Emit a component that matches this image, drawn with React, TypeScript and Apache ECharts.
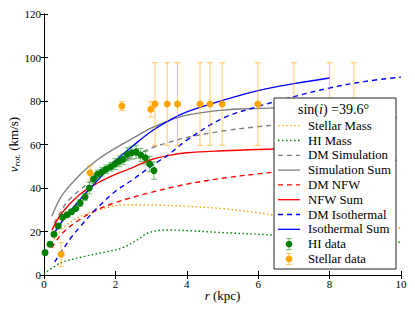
import { useEffect, useRef } from "react";
import * as echarts from "echarts";

// ---- data ----
const xTicks = [0, 2, 4, 6, 8, 10];
const yTicks = [0, 20, 40, 60, 80, 100, 120];

const hiR = [0.03, 0.17, 0.28, 0.4, 0.52, 0.65, 0.77, 0.89, 1.01, 1.15, 1.27, 1.39, 1.5, 1.63, 1.74, 1.87, 1.99, 2.11, 2.22, 2.34, 2.46, 2.58, 2.71, 2.84, 2.96, 3.08];
const hiV = [10.3, 14.1, 18.7, 22.5, 26.5, 27.7, 29.1, 30.6, 33.1, 35.9, 40.0, 44.1, 46.3, 47.5, 48.6, 49.8, 51.0, 52.3, 53.2, 55.5, 56.2, 56.6, 55.2, 53.9, 51.0, 48.0];
const hiErr = [1, 1, 1, 1, 1, 1, 1, 1, 1.5, 1.5, 2.7, 2, 2, 2, 2, 2, 2.5, 2.5, 2.5, 3, 3, 3, 3, 3, 3.5, 4];

const stR = [0.48, 1.29, 2.18, 2.99, 3.11, 3.45, 3.74, 4.37, 4.65, 4.99, 5.99, 7.0, 8.0, 8.68];
const stV = [9.5, 47.0, 77.7, 76.2, 78.6, 78.6, 78.6, 78.6, 78.6, 78.6, 78.6, 78.6, 78.6, 78.6];
const stErr = [5.5, 3.2, 2, 3.5, 19, 19, 19, 19, 19, 19, 19, 19, 19, 19];

const stellarMassR = [0.22, 0.5, 0.8, 1.3, 1.75, 2.2, 2.7, 3.2, 4.0, 5.0, 6.0, 6.4, 8.0, 10.0];
const stellarMassV = [15, 21, 25, 28.8, 31, 32.2, 32.3, 32.1, 31.6, 30.5, 28.6, 27.6, 24.5, 21.5];

const hiMassR = [0.0, 0.45, 1.1, 1.76, 2.2, 2.6, 2.9, 3.4, 4.0, 5.0, 6.4, 8.0, 10.0];
const hiMassV = [0.5, 5.4, 8.4, 10.7, 12.5, 16, 19.2, 20.7, 20.4, 19.5, 18.4, 17, 15];

const dmSimR = [0.28, 0.5, 0.65, 1.0, 1.5, 2.0, 2.5, 3.0, 3.5, 4.0, 5.0, 6.0, 6.5, 8.0, 10.0];
const dmSimV = [23.8, 30, 33.7, 39, 45.5, 50.5, 54.5, 58.3, 61, 63.2, 66.2, 68.2, 69, 70.8, 72.5];

const simSumR = [0.22, 0.5, 1.0, 1.5, 2.0, 2.5, 3.0, 3.5, 4.0, 5.0, 6.0, 7.0, 8.0];
const simSumV = [27, 36.5, 46, 53, 58.3, 63, 67.5, 71, 73.5, 75.8, 76.6, 77.2, 77.5];

const dmNfwR = [0.22, 0.5, 1.0, 1.5, 2.0, 2.5, 3.0, 3.5, 4.0, 5.0, 6.0, 7.0, 8.0, 9.0, 10.0];
const dmNfwV = [12.5, 19, 25.5, 30, 33.3, 35.8, 38, 40, 41.8, 44.5, 46.5, 48.3, 50, 51.5, 53];

const nfwSumR = [0.22, 0.5, 1.0, 1.5, 2.0, 2.5, 3.0, 3.5, 4.0, 5.0, 6.0, 7.0, 8.0];
const nfwSumV = [20.5, 28.5, 37, 42.3, 46.3, 49.5, 53, 55, 56.2, 57.1, 57.7, 58.1, 58.4];

const dmIsoR = [0.3, 0.5, 0.75, 1.0, 1.5, 2.0, 2.5, 3.0, 3.5, 4.0, 5.0, 6.0, 7.0, 8.0, 9.0, 10.0];
const dmIsoV = [6, 11, 17, 22, 31, 38.5, 44, 50, 55.5, 62, 72, 77.5, 82, 86, 89, 91];

const isoSumR = [0.24, 0.5, 1.0, 1.5, 2.0, 2.5, 3.0, 3.5, 4.0, 5.0, 6.0, 7.0, 8.0];
const isoSumV = [18, 24.5, 34.5, 43.5, 52.5, 59.5, 66, 71, 75, 80.3, 84.8, 88, 90.6];

const SERIF = "'Liberation Serif', 'DejaVu Serif', serif";

const lines = [
  { name: "Stellar Mass", r: stellarMassR, v: stellarMassV, color: "#FFA500", dash: [1.5, 2.5] },
  { name: "HI Mass", r: hiMassR, v: hiMassV, color: "#008000", dash: [1.5, 2.5] },
  { name: "DM Simulation", r: dmSimR, v: dmSimV, color: "#808080", dash: [5, 4] },
  { name: "Simulation Sum", r: simSumR, v: simSumV, color: "#808080", dash: null },
  { name: "DM NFW", r: dmNfwR, v: dmNfwV, color: "#FF0000", dash: [5, 4] },
  { name: "NFW Sum", r: nfwSumR, v: nfwSumV, color: "#FF0000", dash: null },
  { name: "DM Isothermal", r: dmIsoR, v: dmIsoV, color: "#0000FF", dash: [5, 4] },
  { name: "Isothermal Sum", r: isoSumR, v: isoSumV, color: "#0000FF", dash: null },
];

function errorBarSeries(name: string, r: number[], v: number[], e: number[], color: string) {
  return {
    name: name + " err",
    type: "custom",
    z: 3,
    data: r.map((x, i) => [x, v[i], e[i]]),
    encode: { x: 0, y: 1 },
    renderItem: (_p: any, api: any) => {
      const x = api.value(0);
      const y = api.value(1);
      const err = api.value(2);
      const t = api.coord([x, y + err]);
      const b = api.coord([x, y - err]);
      const cw = 3;
      const style = { stroke: color, lineWidth: 1 };
      return {
        type: "group",
        children: [
          { type: "line", shape: { x1: t[0], y1: t[1], x2: b[0], y2: b[1] }, style },
          { type: "line", shape: { x1: t[0] - cw, y1: t[1], x2: t[0] + cw, y2: t[1] }, style },
          { type: "line", shape: { x1: b[0] - cw, y1: b[1], x2: b[0] + cw, y2: b[1] }, style },
        ],
      };
    },
  };
}

export default function App() {
  const ref = useRef<HTMLDivElement>(null);
  useEffect(() => {
    if (!ref.current) return;
    const chart = echarts.init(ref.current, null, { renderer: "svg" });

    const gridLeft = 44, gridRight = 14, gridTop = 14, gridBottom = 37;

    const axisCommon = {
      type: "value" as const,
      axisLine: { show: true, lineStyle: { color: "#000", width: 1 } },
      axisTick: { show: true, inside: true, length: 4, lineStyle: { color: "#000" } },
      splitLine: { show: false },
    };

    const FS = 12.8;
    // legend (drawn as graphics)
    const lx = 274, ly = 98, lw = 122, lh = 171;
    const rowY0 = 125.7, rowStep = 14.8;
    const legendEls: any[] = [
      { type: "rect", shape: { x: lx, y: ly, width: lw, height: lh }, style: { fill: "#fff", stroke: "#222", lineWidth: 1 }, z: 50 },
      {
        type: "text",
        x: 333.5,
        y: 109.5,
        z: 51,
        style: {
          text: "sin({i|i}) =39.6°",
          rich: { i: { fontStyle: "italic", fontFamily: SERIF, fontSize: 14 } },
          fontFamily: SERIF,
          fontSize: 14,
          fill: "#000",
          align: "center",
          verticalAlign: "middle",
        },
      },
    ];
    lines.forEach((l, k) => {
      const yy = rowY0 + rowStep * k;
      legendEls.push({
        type: "line",
        z: 51,
        shape: { x1: 278, y1: yy, x2: 300, y2: yy },
        style: { stroke: l.color, lineWidth: 1.3, lineDash: l.dash || null },
      });
      legendEls.push({
        type: "text",
        z: 51,
        x: 308,
        y: yy,
        style: { text: l.name, fontFamily: SERIF, fontSize: FS, fill: "#000", verticalAlign: "middle" },
      });
    });
    [
      { name: "HI data", color: "#008000", bar: "rgba(0,128,0,0.5)" },
      { name: "Stellar data", color: "#FFA500", bar: "rgba(255,165,0,0.6)" },
    ].forEach((d, j) => {
      const yy = rowY0 + rowStep * (8 + j);
      const cx = 289;
      legendEls.push({ type: "line", z: 51, shape: { x1: cx, y1: yy - 5.5, x2: cx, y2: yy + 5.5 }, style: { stroke: d.bar, lineWidth: 1 } });
      legendEls.push({ type: "line", z: 51, shape: { x1: cx - 3, y1: yy - 5.5, x2: cx + 3, y2: yy - 5.5 }, style: { stroke: d.bar, lineWidth: 1 } });
      legendEls.push({ type: "line", z: 51, shape: { x1: cx - 3, y1: yy + 5.5, x2: cx + 3, y2: yy + 5.5 }, style: { stroke: d.bar, lineWidth: 1 } });
      legendEls.push({ type: "circle", z: 52, shape: { cx, cy: yy, r: 3.4 }, style: { fill: d.color } });
      legendEls.push({
        type: "text",
        z: 51,
        x: 308,
        y: yy,
        style: { text: d.name, fontFamily: SERIF, fontSize: FS, fill: "#000", verticalAlign: "middle" },
      });
    });

    const option: any = {
      animation: false,
      backgroundColor: "#fff",
      textStyle: { fontFamily: SERIF },
      grid: {
        left: gridLeft,
        right: gridRight,
        top: gridTop,
        bottom: gridBottom,
        containLabel: false,
        outerBoundsMode: "none",
      },
      xAxis: [
        {
          ...axisCommon,
          position: "bottom",
          min: xTicks[0],
          max: xTicks[xTicks.length - 1],
          interval: xTicks[1] - xTicks[0],
          axisLabel: { color: "#000", fontFamily: SERIF, fontSize: 11, margin: 3 },
          name: "{r|r} (kpc)",
          nameLocation: "middle",
          nameMoveOverlap: false,
          nameGap: 14,
          nameTextStyle: {
            color: "#000",
            fontFamily: SERIF,
            fontSize: 13,
            rich: { r: { fontStyle: "italic", fontFamily: SERIF, fontSize: 13 } },
          },
        },
        {
          ...axisCommon,
          position: "top",
          min: xTicks[0],
          max: xTicks[xTicks.length - 1],
          interval: xTicks[1] - xTicks[0],
          axisLabel: { show: false },
        },
      ],
      yAxis: [
        {
          ...axisCommon,
          position: "left",
          min: yTicks[0],
          max: yTicks[yTicks.length - 1],
          interval: yTicks[1] - yTicks[0],
          axisLabel: { color: "#000", fontFamily: SERIF, fontSize: 11, margin: 3 },
          name: "{v|v}{s|rot.} (km/s)",
          nameLocation: "middle",
          nameMoveOverlap: false,
          nameGap: 23,
          nameTextStyle: {
            color: "#000",
            fontFamily: SERIF,
            fontSize: 13,
            lineHeight: 16,
            rich: {
              v: { fontStyle: "italic", fontFamily: SERIF, fontSize: 13, lineHeight: 16 },
              s: { fontStyle: "italic", fontFamily: SERIF, fontSize: 9, lineHeight: 16, verticalAlign: "bottom" },
            },
          },
        },
        {
          ...axisCommon,
          position: "right",
          min: yTicks[0],
          max: yTicks[yTicks.length - 1],
          interval: yTicks[1] - yTicks[0],
          axisLabel: { show: false },
        },
      ],
      series: [
        ...lines.map((l) => ({
          name: l.name,
          type: "line",
          xAxisIndex: 0,
          yAxisIndex: 0,
          data: l.r.map((x, i) => [x, l.v[i]]),
          smooth: 0.35,
          showSymbol: false,
          symbol: "none",
          z: 2,
          lineStyle: { color: l.color, width: 1.4, type: l.dash || "solid" },
        })),
        errorBarSeries("HI data", hiR, hiV, hiErr, "rgba(0,128,0,0.5)"),
        errorBarSeries("Stellar data", stR, stV, stErr, "rgba(255,165,0,0.6)"),
        {
          name: "HI data",
          type: "scatter",
          z: 4,
          symbolSize: 7,
          itemStyle: { color: "#008000", opacity: 1 },
          data: hiR.map((x, i) => [x, hiV[i]]),
        },
        {
          name: "Stellar data",
          type: "scatter",
          z: 4,
          symbolSize: 7,
          itemStyle: { color: "#FFA500", opacity: 1 },
          data: stR.map((x, i) => [x, stV[i]]),
        },
      ],
      graphic: { elements: legendEls },
    };
    chart.setOption(option);
    return () => chart.dispose();
  }, []);
  return <div ref={ref} style={{ position: "fixed", left: 0, top: 0, width: 415, height: 312 }} />;
}
